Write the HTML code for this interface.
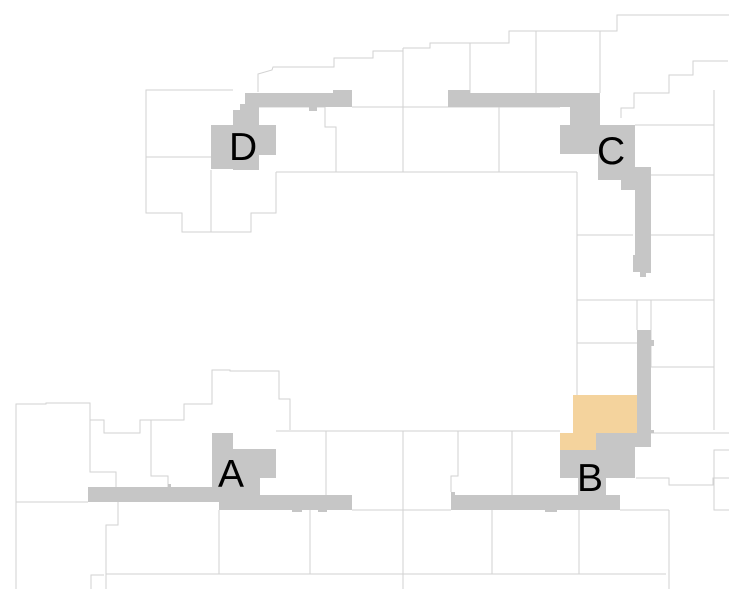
<!DOCTYPE html>
<html><head><style>html,body{margin:0;padding:0;background:#fff}svg{display:block}</style></head>
<body>
<svg width="729" height="589" viewBox="0 0 729 589" xmlns="http://www.w3.org/2000/svg">
<g fill="none" stroke="#d2d2d2" stroke-width="1">
<polyline points="258,92 258,74 272,70 273,67 334,67 334,58 373,58 373,51 403,51"/>
<polyline points="233,90 146,90 146,213 182,213 182,232 251,232 251,213 276,213 276,172"/>
<line x1="146" y1="157" x2="211" y2="157"/>
<line x1="211" y1="170" x2="211" y2="232"/>
<polyline points="259,107 325,107 325,127 336,127 336,172"/>
<line x1="276" y1="172" x2="577" y2="172"/>
<line x1="352" y1="107" x2="560" y2="107"/>
<line x1="403" y1="48" x2="403" y2="172"/>
<line x1="499" y1="107" x2="499" y2="172"/>
<polyline points="403,48 430,48 430,43 509,43 509,31 600,31 617,31 617,15 729,15"/>
<line x1="470" y1="43" x2="470" y2="93"/>
<line x1="536" y1="31" x2="536" y2="93"/>
<line x1="600" y1="31" x2="600" y2="93"/>
<polyline points="621,118 621,108 634,108 634,93 669,93 669,75 693,75 693,61 728,61"/>
<line x1="714" y1="90" x2="714" y2="430"/>
<line x1="635" y1="125" x2="714" y2="125"/>
<line x1="651" y1="175" x2="714" y2="175"/>
<line x1="651" y1="235" x2="714" y2="235"/>
<line x1="577" y1="172" x2="577" y2="395"/>
<line x1="577" y1="235" x2="633" y2="235"/>
<line x1="577" y1="300" x2="714" y2="300"/>
<line x1="577" y1="343" x2="637" y2="343"/>
<line x1="651" y1="300" x2="651" y2="367"/>
<line x1="651" y1="367" x2="714" y2="367"/>
<line x1="637" y1="300" x2="637" y2="330"/>
<polyline points="651,433 729,433"/>
<polyline points="636,478 669,478 669,485 713,485 713,478 729,478"/>
<polyline points="729,450 714,450 714,510 729,510"/>
<line x1="669" y1="510" x2="669" y2="589"/>
<polyline points="16,589 16,404 46,404 46,403 90,403 90,420 104,420 104,433 140,433 140,420 184,420 184,404 212,404 212,370 230,370 230,371 279,371 279,399 290,399 290,430"/>
<line x1="16" y1="502" x2="88" y2="502"/>
<polyline points="118,502 118,525 106,525 106,589"/>
<polyline points="90,420 90,472 116,472 116,487"/>
<polyline points="151,420 151,476 168,476 168,487"/>
<line x1="276" y1="431" x2="560" y2="431"/>
<line x1="326" y1="431" x2="326" y2="495"/>
<line x1="403" y1="431" x2="403" y2="589"/>
<polyline points="458,431 458,476 451,476 451,492"/>
<line x1="512" y1="431" x2="512" y2="495"/>
<line x1="219" y1="510" x2="219" y2="574"/>
<line x1="310" y1="510" x2="310" y2="574"/>
<line x1="352" y1="510" x2="451" y2="510"/>
<line x1="492" y1="510" x2="492" y2="574"/>
<line x1="579" y1="510" x2="579" y2="574"/>
<polyline points="620,510 669,510"/>
<line x1="106" y1="574" x2="666" y2="574"/>
<polyline points="91,589 91,575 104,575"/>
</g>
<g fill="#c6c6c6">
<polygon points="245,93 333,93 333,90 352,90 352,107 317,107 317,111 309,111 309,107 259,107 259,125 276,125 276,155 259,155 259,170 233,170 233,169 211,169 211,125 233,125 233,110 240,110 240,104 245,104"/>
<polygon points="448,90 470,90 470,93 600,93 600,125 635,125 635,167 651,167 651,273 646,273 646,277 640,277 640,272 633,272 633,255 635,255 635,190 621,190 621,180 598,180 598,170 598,154 560,154 560,125 570,125 570,107 448,107"/>
<polygon points="212,433 233,433 233,449 276,449 276,478 260,478 260,495 352,495 352,510 327,510 327,512 318,512 318,510 302,510 302,512 292,512 292,510 219,510 219,502 88,502 88,487 168,487 168,484 171,484 171,487 212,487"/>
<polygon points="637,330 651,330 651,340 654,340 654,346 651,346 651,430 654,430 654,433 651,433 651,447 635,447 635,478 606,478 606,495 620,495 620,510 557,510 557,512 545,512 545,510 451,510 451,492 455,492 455,495 578,495 578,478 560,478 560,450 596,450 596,433 637,433"/>
</g>
<polygon fill="#f4d39d" points="573,395 637,395 637,433 596,433 596,450 560,450 560,433 573,433"/>
<g font-family="Liberation Sans, sans-serif" font-size="39" fill="#000">
<text x="229" y="160">D</text>
<text x="597" y="164">C</text>
<text x="218" y="487">A</text>
<text x="577" y="491">B</text>
</g>
</svg>
</body></html>
